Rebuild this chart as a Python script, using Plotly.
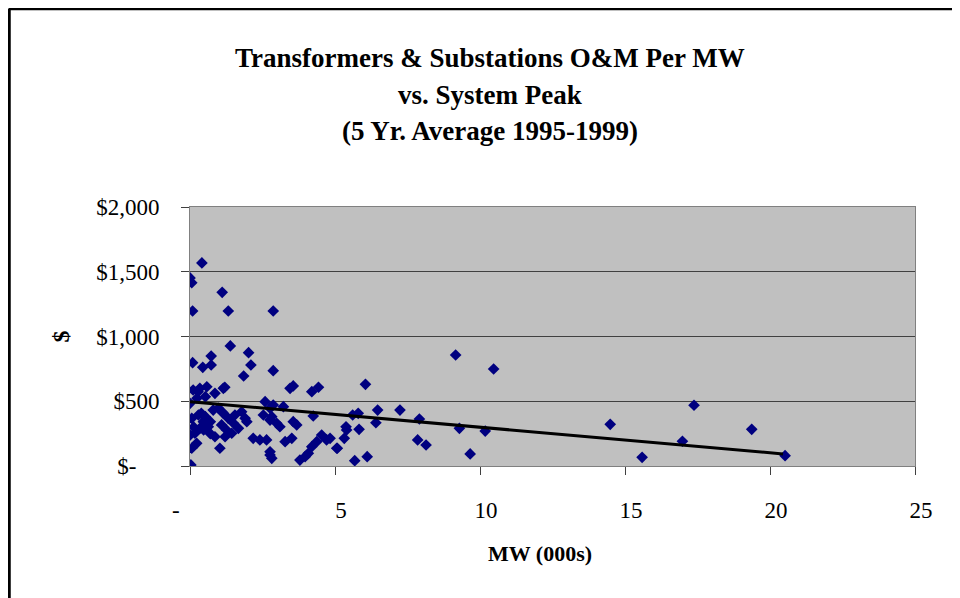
import plotly.graph_objects as go

NB = "\u00a0"

# Scatter data: MW (000s) vs O&M $ per MW
mw_x = [0.41, 0.00, 0.06, 0.09, 1.11, 1.32, 2.87, 1.39, 2.02, 0.73, 2.10, 0.09,
        0.44, 0.73, 1.85, 2.87, 0.58, 1.20,
        0.11, 0.34, 0.86, 1.15, 0.24, 0.53, 2.59, 2.87, 0.00,
        0.06, 0.29, 0.46, 0.63, 0.80, 0.98, 1.15, 1.32, 1.55, 1.78, 1.90,
        2.53, 2.76, 1.09, 1.26, 1.44, 1.67, 1.96, 0.00, 0.17, 0.34,
        0.86, 1.21, 2.18, 2.41, 2.64, 0.06, 0.23, 1.03, 2.76, 0.03,
        0.28, 0.39, 0.53, 0.70, 1.10, 0.47, 0.13, 2.76, 2.82, 2.99, 2.76, 2.82, 0.70, 1.50,
        3.10, 3.22, 3.56, 3.68, 4.25, 3.28, 3.51, 4.54, 4.71, 4.37, 4.20, 4.08, 3.97, 3.79,
        5.06, 3.56, 3.45, 4.43, 4.20,
        9.16, 10.47, 6.05, 5.61, 5.80, 6.47, 7.24, 7.91, 5.38, 5.40, 5.83, 6.41, 9.29, 10.18,
        5.32, 4.83, 5.08, 7.85, 8.14, 6.11, 5.68, 9.66,
        17.38, 14.49, 19.37, 16.98, 15.59, 20.52]
om_y = [1568, 1452, 1415, 1197, 1341, 1197, 1197, 927, 875, 849, 780, 798,
        762, 780, 695, 736, 612, 608,
        587, 600, 561, 600, 523, 535, 497, 471, 484,
        368, 394, 342, 303, 432, 446, 407, 368, 394, 419, 368,
        394, 355, 317, 278, 253, 291, 342, 239, 253, 291,
        226, 226, 214, 201, 201, 137, 175, 137, 85, 8,
        574, 407, 381, 342, 419, 278, 300, 446, 381, 330, 110, 59, 250, 330,
        303, 458, 342, 317, 386, 188, 214, 239, 201, 188, 149, 98, 72, 46,
        137, 618, 600, 608, 574,
        857, 749, 631, 394, 407, 432, 432, 363, 303, 278, 283, 334, 291, 270,
        214, 214, 137, 201, 162, 72, 41, 93,
        469, 322, 283, 191, 67, 80]

# Linear trendline end points
trend_x = [0.0, 20.45]
trend_y = [497, 93]

# Axis ticks
x_tickvals = [0, 5, 10, 15, 20, 25]
x_ticktext = ["-" + NB * 7, "5", "10", "15", "20", "25"]
y_tickvals = [0, 500, 1000, 1500, 2000]
y_ticktext = ["$-" + NB * 4, "$500", "$1,000", "$1,500", "$2,000"]

title_lines = ["Transformers & Substations O&M Per MW",
               "vs. System Peak",
               "(5 Yr. Average 1995-1999)"]
x_title = "MW (000s)"
y_title = "$"

SERIF = "Liberation Serif, Times New Roman, serif"

# plot area in figure pixels (page is offset by the 8px body margin)
L, R, T, B = 182, 907, 199, 458
W, H = R - L, B - T


def px_x(p):
    return (p - L) / W


def px_y(p):
    return (B - p) / H


fig = go.Figure()
fig.add_trace(go.Scatter(
    x=mw_x, y=om_y, mode="markers",
    marker=dict(symbol="diamond", size=9, color="#000080",
                line=dict(width=0)),
    showlegend=False, hoverinfo="skip"))
fig.add_trace(go.Scatter(
    x=trend_x, y=trend_y, mode="lines",
    line=dict(color="black", width=3),
    showlegend=False, hoverinfo="skip"))

fig.update_layout(
    width=960, height=598,
    margin=dict(l=L, r=960 - R, t=T, b=598 - B),
    paper_bgcolor="white", plot_bgcolor="#C0C0C0",
    font=dict(family=SERIF, size=23, color="black"),
)
fig.update_xaxes(range=[0, 25], tickvals=x_tickvals, ticktext=x_ticktext,
                 showgrid=False, zeroline=False,
                 showline=True, linecolor="#808080", linewidth=1, mirror=True,
                 ticks="outside", ticklen=8, tickcolor="#404040",
                 ticklabelshift=6, ticklabelstandoff=15,
                 tickfont=dict(family=SERIF, size=23, color="black"))
fig.update_yaxes(range=[0, 2000], tickvals=y_tickvals, ticktext=y_ticktext,
                 showgrid=True, gridcolor="#404040", gridwidth=1, zeroline=False,
                 showline=True, linecolor="#808080", linewidth=1, mirror=True,
                 ticks="outside", ticklen=8, tickcolor="#404040",
                 ticklabelstandoff=17,
                 tickfont=dict(family=SERIF, size=23, color="black"))

# Title lines
for line, yp in zip(title_lines, [50, 87, 123]):
    fig.add_annotation(text=line, xref="paper", yref="paper",
                       x=px_x(482), y=px_y(yp), xanchor="center", yanchor="middle",
                       showarrow=False,
                       font=dict(family=SERIF, size=27, color="black", weight="bold"))

fig.add_annotation(text=y_title, xref="paper", yref="paper",
                   x=px_x(52), y=0.5, xanchor="center", yanchor="middle",
                   textangle=-90, showarrow=False,
                   font=dict(family=SERIF, size=24, color="black", weight="bold"))
fig.add_annotation(text=x_title, xref="paper", yref="paper",
                   x=px_x(532), y=px_y(545),
                   xanchor="center", yanchor="middle", showarrow=False,
                   font=dict(family=SERIF, size=22, color="black", weight="bold"))

# Outer chart frame (top and left edges visible)
fx = px_x(1)
fy = px_y(0.5)
fig.add_shape(type="line", xref="paper", yref="paper",
              x0=fx, y0=fy, x1=px_x(980), y1=fy,
              line=dict(color="black", width=3.5))
fig.add_shape(type="line", xref="paper", yref="paper",
              x0=fx, y0=fy, x1=fx, y1=px_y(620),
              line=dict(color="black", width=3.5))

fig.write_html("out.html")
